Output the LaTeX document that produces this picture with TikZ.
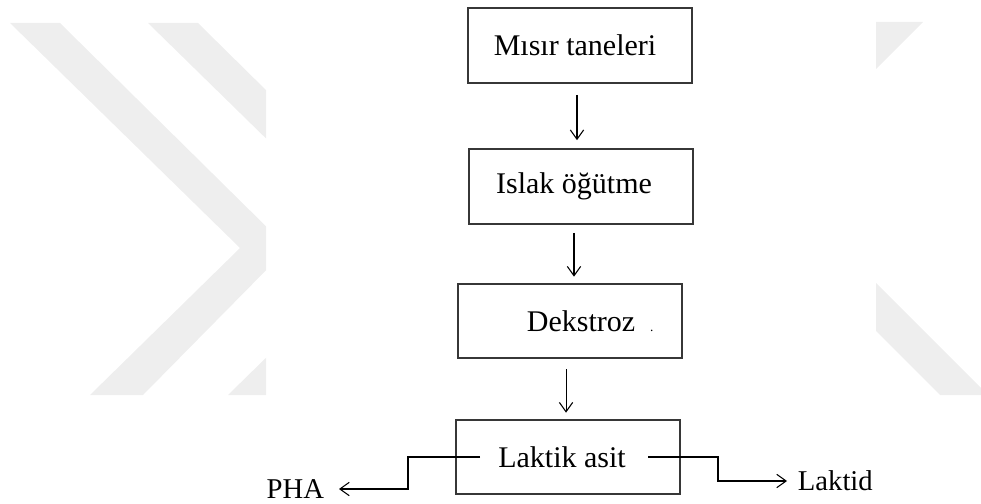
\documentclass[tikz,border=0pt]{standalone}
\usepackage{fontspec}
\setmainfont{Liberation Serif}
\usetikzlibrary{arrows.meta}
\definecolor{wmgray}{RGB}{238,238,238}
\definecolor{boxline}{RGB}{55,55,55}
\begin{document}
\begin{tikzpicture}[x=0.75pt,y=-0.75pt,
                    stepbox/.style={draw=boxline,line width=1.5pt,minimum width=168pt,
                                    minimum height=56pt,inner sep=0pt,
                                    font=\fontsize{22.5}{27}\selectfont},
                    lbl/.style={inner sep=2pt,font=\fontsize{21.5}{26}\selectfont},
                    link/.style={line width=0.8pt,-{Straight Barb[length=7pt,width=10pt]}},
                    wm/.style={fill=wmgray}]
    \useasboundingbox (0,0) rectangle (981,503);
    \begin{scope}
        \clip (0,23) rectangle (266,395);
        \fill[wm] (10,23) -- (60,23) -- (288,248) -- (143,395) -- (90,395) -- (240,248) -- cycle;
        \fill[wm,shift={(138,0)}] (10,23) -- (60,23) -- (288,248) -- (143,395) -- (90,395) -- (240,248) -- cycle;
    \end{scope}
    \fill[wm] (876,22) -- (923,22) -- (876,69) -- cycle;
    \fill[wm] (876,283) -- (981,388) -- (981,395) -- (940,395) -- (876,331) -- cycle;
    \node[stepbox] (misir) at (580,45.5) {Mısır taneleri\hspace*{7.5pt}};
    \node[stepbox] (islak) at (581,186.5) {Islak öğütme\hspace*{10.5pt}};
    \node[stepbox] (dekstroz) at (569.5,321) {\hspace*{31pt}Dekstroz\hspace{0.5em}{\fontsize{10}{12}\selectfont .}};
    \node[stepbox] (laktik) at (568,457) {Laktik asit\hspace*{9pt}};
    \node[lbl,anchor=east] (pha) at (327,489) {PHA};
    \node[lbl,anchor=west] (laktid) at (795,481) {Laktid};
    \draw[link,shorten <=8.25pt,shorten >=6pt] ([xshift=-2.25pt]misir.south) -- ([xshift=-2.25pt]misir.south |- islak.north);
    \draw[link,shorten <=6pt,shorten >=4.5pt] ([xshift=-5.25pt]islak.south) -- ([xshift=-5.25pt]islak.south |- dekstroz.north);
    \draw[link,shorten <=7.5pt,shorten >=4.5pt] ([xshift=-2.6pt]dekstroz.south) -- ([xshift=-2.6pt]dekstroz.south |- laktik.north);
    \draw[link,shorten >=9pt] ([xshift=18.75pt]laktik.west) -- ++(-72,0) |- (pha.east);
    \draw[link,shorten >=6pt] ([xshift=-24.75pt]laktik.east) -- ++(70,0) |- (laktid.west);
\end{tikzpicture}
\end{document}
